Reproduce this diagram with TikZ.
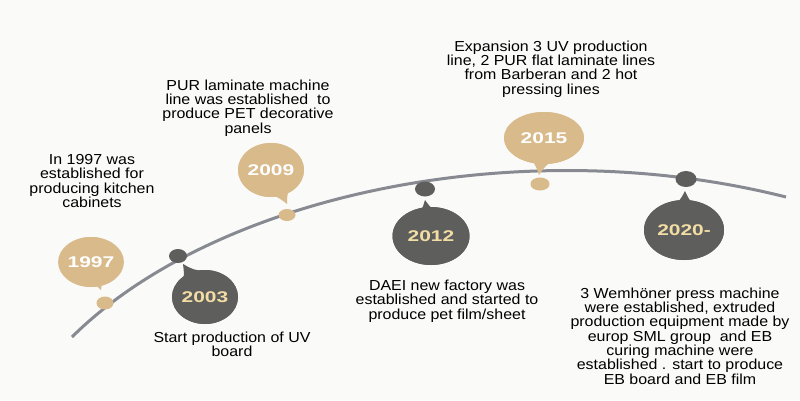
\documentclass[tikz,border=0pt]{standalone}
\usepackage{fontspec}
\setmainfont{Liberation Sans}[FakeStretch=1.1]
\newfontfamily\yearfont{Liberation Sans}[FakeStretch=1.35]
\usetikzlibrary{shapes.geometric,calc}
\definecolor{tanc}{HTML}{D9BA8B}
\definecolor{grayb}{HTML}{5E5E5C}
\definecolor{yeartxt}{HTML}{F2DDA4}
\definecolor{curvec}{HTML}{878A90}
\definecolor{bgc}{HTML}{FAFAF9}
\newcommand{\bubtail}[3]{%
  \coordinate (#1m) at ($(#2)!20pt!(#1.center)$);
  \coordinate (#1c) at ($(#1m)!0.5!(#2)$);
  \coordinate (#1l) at ($(#1m)!16pt!90:(#2)$);
  \coordinate (#1r) at ($(#1m)!16pt!-90:(#2)$);
  \coordinate (#1cl) at ($(#1c)!5pt!90:(#2)$);
  \coordinate (#1cr) at ($(#1c)!5pt!-90:(#2)$);
  \fill[#3] (#1l) .. controls (#1cl) .. (#2) .. controls (#1cr) .. (#1r) -- cycle;
}
\begin{document}
\begin{tikzpicture}[x=1pt,y=-1pt,
  bubble/.style={ellipse, inner sep=0pt, font=\yearfont\fontsize{15.5}{16}\selectfont\bfseries},
  tanbub/.style={bubble, fill=tanc, text=white},
  graybub/.style={bubble, fill=grayb, text=yeartxt},
  dotn/.style={ellipse, inner sep=0pt},
  desc/.style={align=center, font=\fontsize{14.5}{14.3}\selectfont, text=black, inner sep=0pt}]
\fill[bgc] (0,0) rectangle (800,400);
\useasboundingbox (0,0) rectangle (800,400);

% timeline curve
\draw[curvec, line width=3pt] (72,337) .. controls (215,195) and (520,130) .. (786,197);

% tips
\coordinate (p1997) at (101,290);
\coordinate (p2003) at (183,264);
\coordinate (p2009) at (287,204);
\coordinate (p2012) at (425,200);
\coordinate (p2015) at (539,175);
\coordinate (p2020) at (685,191);

% bubble bodies (tails drawn first)
\path (91,262) node[tanbub, minimum width=62pt, minimum height=50pt] (b1997) {};
\path (205,297) node[graybub, minimum width=66pt, minimum height=54pt] (b2003) {};
\path (271,170) node[tanbub, minimum width=66pt, minimum height=54pt] (b2009) {};
\path (431,236) node[graybub, minimum width=77pt, minimum height=58pt] (b2012) {};
\path (544,138) node[tanbub, minimum width=80pt, minimum height=52pt] (b2015) {};
\path (684,230) node[graybub, minimum width=80pt, minimum height=60pt] (b2020) {};

\bubtail{b1997}{p1997}{tanc}
\bubtail{b2003}{p2003}{grayb}
\bubtail{b2009}{p2009}{tanc}
\bubtail{b2012}{p2012}{grayb}
\bubtail{b2015}{p2015}{tanc}
\bubtail{b2020}{p2020}{grayb}

\node[tanbub, minimum width=62pt, minimum height=50pt] at (b1997) {1997};
\node[graybub, minimum width=66pt, minimum height=54pt] at (b2003) {2003};
\node[tanbub, minimum width=66pt, minimum height=54pt] at (b2009) {2009};
\node[graybub, minimum width=77pt, minimum height=58pt] at (b2012) {2012};
\node[tanbub, minimum width=80pt, minimum height=52pt] at (b2015) {2015};
\node[graybub, minimum width=80pt, minimum height=60pt] at (b2020) {2020-};

% dots
\node[dotn, fill=tanc, minimum width=17pt, minimum height=13pt] (d1997) at (105,303) {};
\node[dotn, fill=grayb, minimum width=18pt, minimum height=14pt] (d2003) at (178,256) {};
\node[dotn, fill=tanc, minimum width=17pt, minimum height=12pt] (d2009) at (287,215) {};
\node[dotn, fill=grayb, minimum width=20pt, minimum height=15pt] (d2012) at (425,189) {};
\node[dotn, fill=tanc, minimum width=19pt, minimum height=13pt] (d2015) at (540,184) {};
\node[dotn, fill=grayb, minimum width=21pt, minimum height=16pt] (d2020) at (686,179) {};

% descriptions
\node[desc] (t1997) at (92,181) {In 1997 was\\established for\\producing kitchen\\cabinets};
\node[desc] (t2009) at (248,108) {PUR laminate machine\\line was established\ \ to\\produce PET decorative\\panels};
\node[desc] (t2015) at (551,69) {Expansion 3 UV production\\line, 2 PUR flat laminate lines\\from Barberan and 2 hot\\pressing lines};
\node[desc] (t2003) at (232,344) {Start production of UV\\board};
\node[desc] (t2012) at (447,301) {DAEI new factory was\\established and started to\\produce pet film/sheet};
\node[desc] (t2020) at (680,336) {3 Wemhöner press machine\\were established, extruded\\production equipment made by\\europ SML group\ \ and EB\\curing machine were\\established . start to produce\\EB board and EB film};
\end{tikzpicture}
\end{document}
